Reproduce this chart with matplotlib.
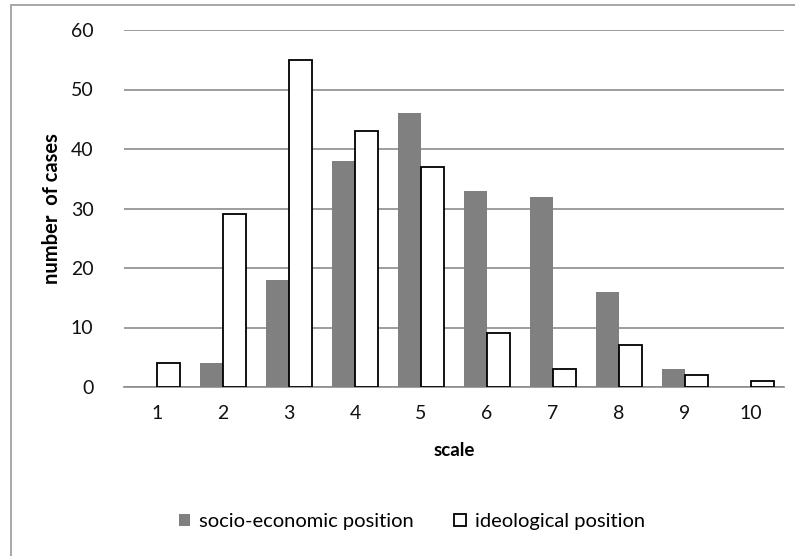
import matplotlib
matplotlib.use("Agg")
import matplotlib.pyplot as plt
import numpy as np
from matplotlib.patches import Rectangle

categories = ["1", "2", "3", "4", "5", "6", "7", "8", "9", "10"]
socio_economic = [0, 4, 18, 38, 46, 33, 32, 16, 3, 0]
ideological = [4, 29, 55, 43, 37, 9, 3, 7, 2, 1]

plt.rcParams['font.family'] = ['Lato', 'DejaVu Sans']

W, H = 795, 556
fig = plt.figure(figsize=(W/100, H/100), dpi=100)
ax = fig.add_axes([124/W, 1-387/H, (784-124)/W, (387-30)/H])

x = np.arange(len(categories))
bw = 0.35
ax.bar(x - bw/2, socio_economic, width=bw, color='#808080', edgecolor='none',
       label='socio-economic position', zorder=3)
ax.bar(x + bw/2, ideological, width=bw, color='white', edgecolor='black',
       linewidth=1.3, label='ideological position', zorder=3)

ax.set_xlim(-0.5, len(categories) - 0.5)
ax.set_ylim(0, 60)
ax.set_yticks(range(0, 61, 10))
ax.set_xticks(x)
ax.set_xticklabels(categories)
ax.yaxis.grid(True, color='#8c8c8c', linewidth=1.2, zorder=0)
ax.set_axisbelow(True)
for s in ['top', 'right', 'left']:
    ax.spines[s].set_visible(False)
ax.spines['bottom'].set_color('#8c8c8c')
ax.spines['bottom'].set_linewidth(1.2)
ax.tick_params(axis='both', length=0, labelsize=14, colors='#111111')
ax.tick_params(axis='y', pad=22)
ax.tick_params(axis='x', pad=13)

ax.set_xlabel('scale', fontsize=13.5, fontweight='bold', labelpad=14)
fig.text(52/W, 1-209/H, 'number  of cases', rotation=90, fontsize=14.5,
         fontweight='bold', ha='center', va='center')

leg = fig.legend(loc='center', bbox_to_anchor=(412/W, 1-522/H), ncol=2,
                 frameon=False, fontsize=14.5, handlelength=0.55, handleheight=0.55,
                 handletextpad=0.45, columnspacing=2.0)

fig.patches.append(Rectangle((11/W, -0.1), 1.2, 1-5/H + 0.1, transform=fig.transFigure,
                             fill=False, edgecolor='#a0a0a0', linewidth=1.3))

fig.savefig('out.png', dpi=100)
